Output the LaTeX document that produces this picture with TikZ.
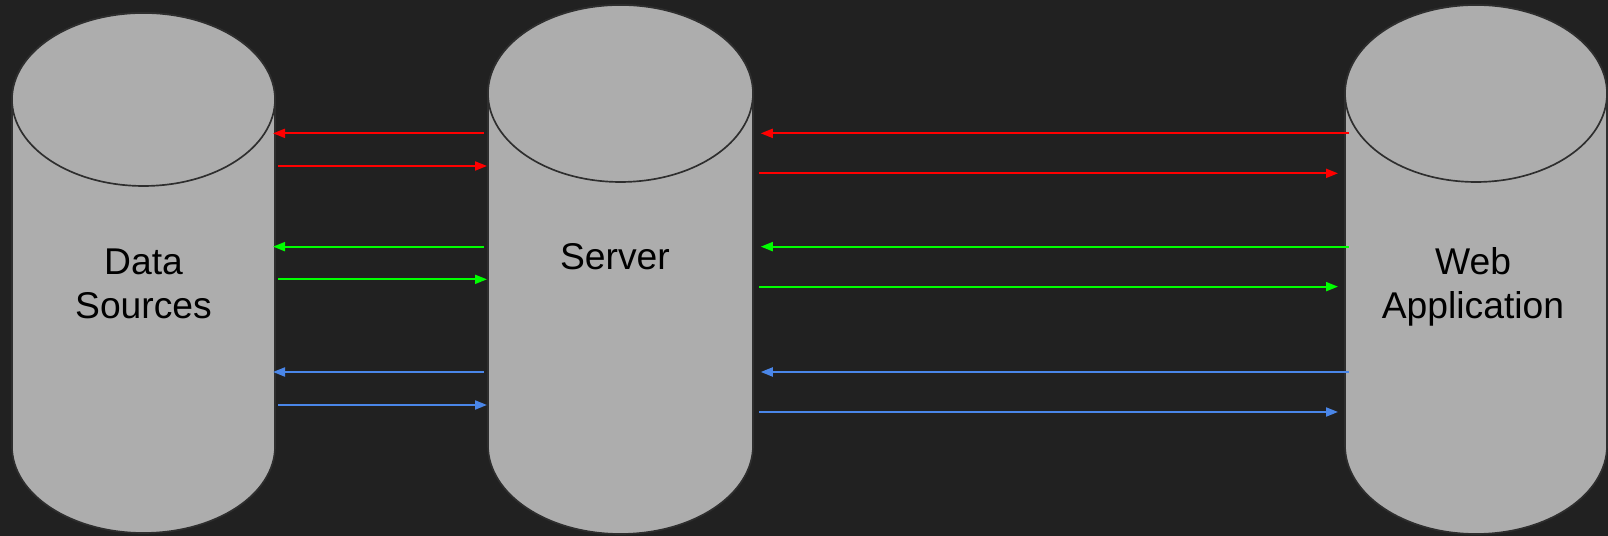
\documentclass[tikz,border=0pt]{standalone}
\usepackage{fontspec}
\setmainfont{Liberation Sans}
\usepackage{tikz}
\usetikzlibrary{arrows.meta}
\definecolor{backdrop}{HTML}{212121}
\definecolor{tankgray}{HTML}{ADADAD}
\definecolor{tankline}{HTML}{2E2E2E}
\definecolor{flowred}{HTML}{FF0000}
\definecolor{flowgreen}{HTML}{00FF00}
\definecolor{flowblue}{HTML}{4A86E8}
\tikzset{>=latex}
\tikzset{
	tank/.style={fill=tankgray, draw=tankline, line width=0.95pt},
	tankbody/.style={inner sep=0, outer sep=0},
	tanklabel/.style={align=center, font=\fontsize{21.2}{24.8}\selectfont, text=black},
	flow/.style={line width=1.1pt, -{Triangle[length=0.24cm,width=0.18cm]}},
	dsback/.style={flow, shorten <=0.08cm, shorten >=-0.04cm},
	dsfwd/.style={flow, shorten <=0.06cm, shorten >=0.02cm},
	webback/.style={flow, shorten <=-0.08cm, shorten >=0.155cm},
	webfwd/.style={flow, shorten <=0.12cm, shorten >=0.14cm}
}
% body node name, x radius, y radius
\newcommand{\cyltank}[3]{%
	\filldraw[tank] (#1.north west) -- (#1.south west)
		arc[start angle=180, end angle=360, x radius=#2, y radius=#3]
		-- (#1.north east)
		arc[start angle=0, end angle=180, x radius=#2, y radius=#3] -- cycle;
	\draw[tank] (#1.north) ellipse[x radius=#2, y radius=#3];
}

\begin{document}
\begin{tikzpicture}
			% Background
			\fill[backdrop] (0,0) rectangle (32.16,10.72);
			\useasboundingbox (0,0) rectangle (32.16,10.72);
			
			% Tanks
			\node[tankbody, minimum width=5.26cm, minimum height=6.94cm] (ds) at (2.87,5.26) {};
			\node[tankbody, minimum width=5.30cm, minimum height=7.04cm] (srv) at (12.41,5.33) {};
			\node[tankbody, minimum width=5.24cm, minimum height=7.04cm] (web) at (29.52,5.33) {};
			\cyltank{ds}{2.63cm}{1.73cm}
			\cyltank{srv}{2.65cm}{1.77cm}
			\cyltank{web}{2.62cm}{1.77cm}
			
			% Labels
			\node[tanklabel] (dslabel) at ([yshift=-0.22cm]ds.center) {Data\\Sources};
			\node[tanklabel] (srvlabel) at ([xshift=-0.11cm, yshift=0.25cm]srv.center) {Server};
			\node[tanklabel] (weblabel) at ([xshift=-0.06cm, yshift=-0.35cm]web.center) {Web\\Application};
			
			% Data Sources <-> Server
			\draw[dsback, flowred] (srv.west |- 0,8.053) -- (ds.east |- 0,8.053);
			\draw[dsfwd, flowred] (ds.east |- 0,7.40) -- (srv.west |- 0,7.40);
			\draw[dsback, flowgreen] (srv.west |- 0,5.787) -- (ds.east |- 0,5.787);
			\draw[dsfwd, flowgreen] (ds.east |- 0,5.133) -- (srv.west |- 0,5.133);
			\draw[dsback, flowblue] (srv.west |- 0,3.28) -- (ds.east |- 0,3.28);
			\draw[dsfwd, flowblue] (ds.east |- 0,2.62) -- (srv.west |- 0,2.62);
			
			% Server <-> Web Application
			\draw[webback, flowred] (web.west |- 0,8.053) -- (srv.east |- 0,8.053);
			\draw[webfwd, flowred] (srv.east |- 0,7.253) -- (web.west |- 0,7.253);
			\draw[webback, flowgreen] (web.west |- 0,5.787) -- (srv.east |- 0,5.787);
			\draw[webfwd, flowgreen] (srv.east |- 0,4.987) -- (web.west |- 0,4.987);
			\draw[webback, flowblue] (web.west |- 0,3.28) -- (srv.east |- 0,3.28);
			\draw[webfwd, flowblue] (srv.east |- 0,2.48) -- (web.west |- 0,2.48);
\end{tikzpicture}
\end{document}
